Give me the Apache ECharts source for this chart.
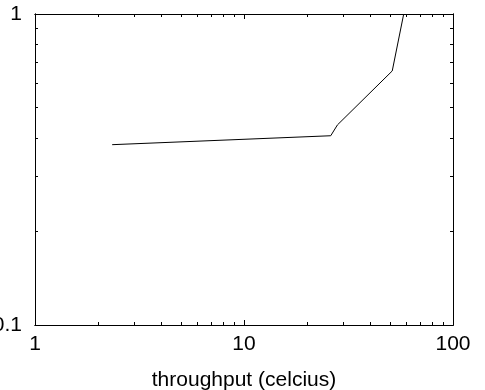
<!DOCTYPE html>
<html>
<head>
<meta charset="utf-8">
<script src="https://cdn.jsdelivr.net/npm/echarts@6/dist/echarts.min.js"></script>
<style>
html,body{margin:0;padding:0;background:#fff;}
#c{width:485px;height:390px;}
</style>
</head>
<body>
<div id="c"></div>
<script>
// data
var xValues = [2.34, 26.0, 28.0, 51.2, 58.1];
var yValues = [0.38, 0.406, 0.44, 0.656, 1.0];
var xMajorTicks = [1, 10, 100];
var xMinorTicks = [2, 3, 4, 5, 6, 7, 8, 9, 20, 30, 40, 50, 60, 70, 80, 90];
var yMajorTicks = [0.1, 1];
var yMinorTicks = [0.2, 0.3, 0.4, 0.5, 0.6, 0.7, 0.8, 0.9];
var xTitle = 'throughput (celcius)';

var font = '"Liberation Sans", Arial, Helvetica, sans-serif';
var chart = echarts.init(document.getElementById('c'));

function xAxisDef(pos, ticks, len, labels) {
  return {
    type: 'log', logBase: 10, min: 1, max: 100, position: pos,
    axisLine: {show: true, onZero: false, lineStyle: {color: '#000', width: 1}},
    axisTick: {show: true, inside: true, length: len, customValues: ticks, lineStyle: {color: '#000', width: 1}},
    axisLabel: labels ? {show: true, customValues: xMajorTicks, color: '#000', fontSize: 21, fontFamily: font, margin: 9,
      formatter: function (v) { return String(v); }} : {show: false},
    splitLine: {show: false},
    minorTick: {show: false},
    name: labels ? xTitle : '',
    nameLocation: 'middle',
    nameGap: 45,
    nameTextStyle: {color: '#000', fontSize: 21, fontFamily: font}
  };
}
function yAxisDef(pos, ticks, len, labels) {
  return {
    type: 'log', logBase: 10, min: 0.1, max: 1, position: pos,
    axisLine: {show: true, onZero: false, lineStyle: {color: '#000', width: 1}},
    axisTick: {show: true, inside: true, length: len, customValues: ticks, lineStyle: {color: '#000', width: 1}},
    axisLabel: labels ? {show: true, customValues: yMajorTicks, color: '#000', fontSize: 21, fontFamily: font, margin: 13,
      formatter: function (v) { return String(v); }} : {show: false},
    splitLine: {show: false},
    minorTick: {show: false}
  };
}

chart.setOption({
  animation: false,
  backgroundColor: '#fff',
  grid: {left: 35, right: 32, top: 14, bottom: 65, containLabel: false, outerBoundsMode: 'none'},
  xAxis: [
    xAxisDef('bottom', xMajorTicks, 5, true),
    xAxisDef('bottom', xMinorTicks, 3, false),
    xAxisDef('top', xMajorTicks, 5, false),
    xAxisDef('top', xMinorTicks, 3, false)
  ],
  yAxis: [
    yAxisDef('left', yMajorTicks, 5, true),
    yAxisDef('left', yMinorTicks, 3, false),
    yAxisDef('right', yMajorTicks, 5, false),
    yAxisDef('right', yMinorTicks, 3, false)
  ],
  series: [{
    type: 'line',
    xAxisIndex: 0, yAxisIndex: 0,
    data: xValues.map(function (x, i) { return [x, yValues[i]]; }),
    showSymbol: false,
    symbol: 'none',
    lineStyle: {color: '#000', width: 1},
    clip: true
  }]
});
</script>
</body>
</html>
